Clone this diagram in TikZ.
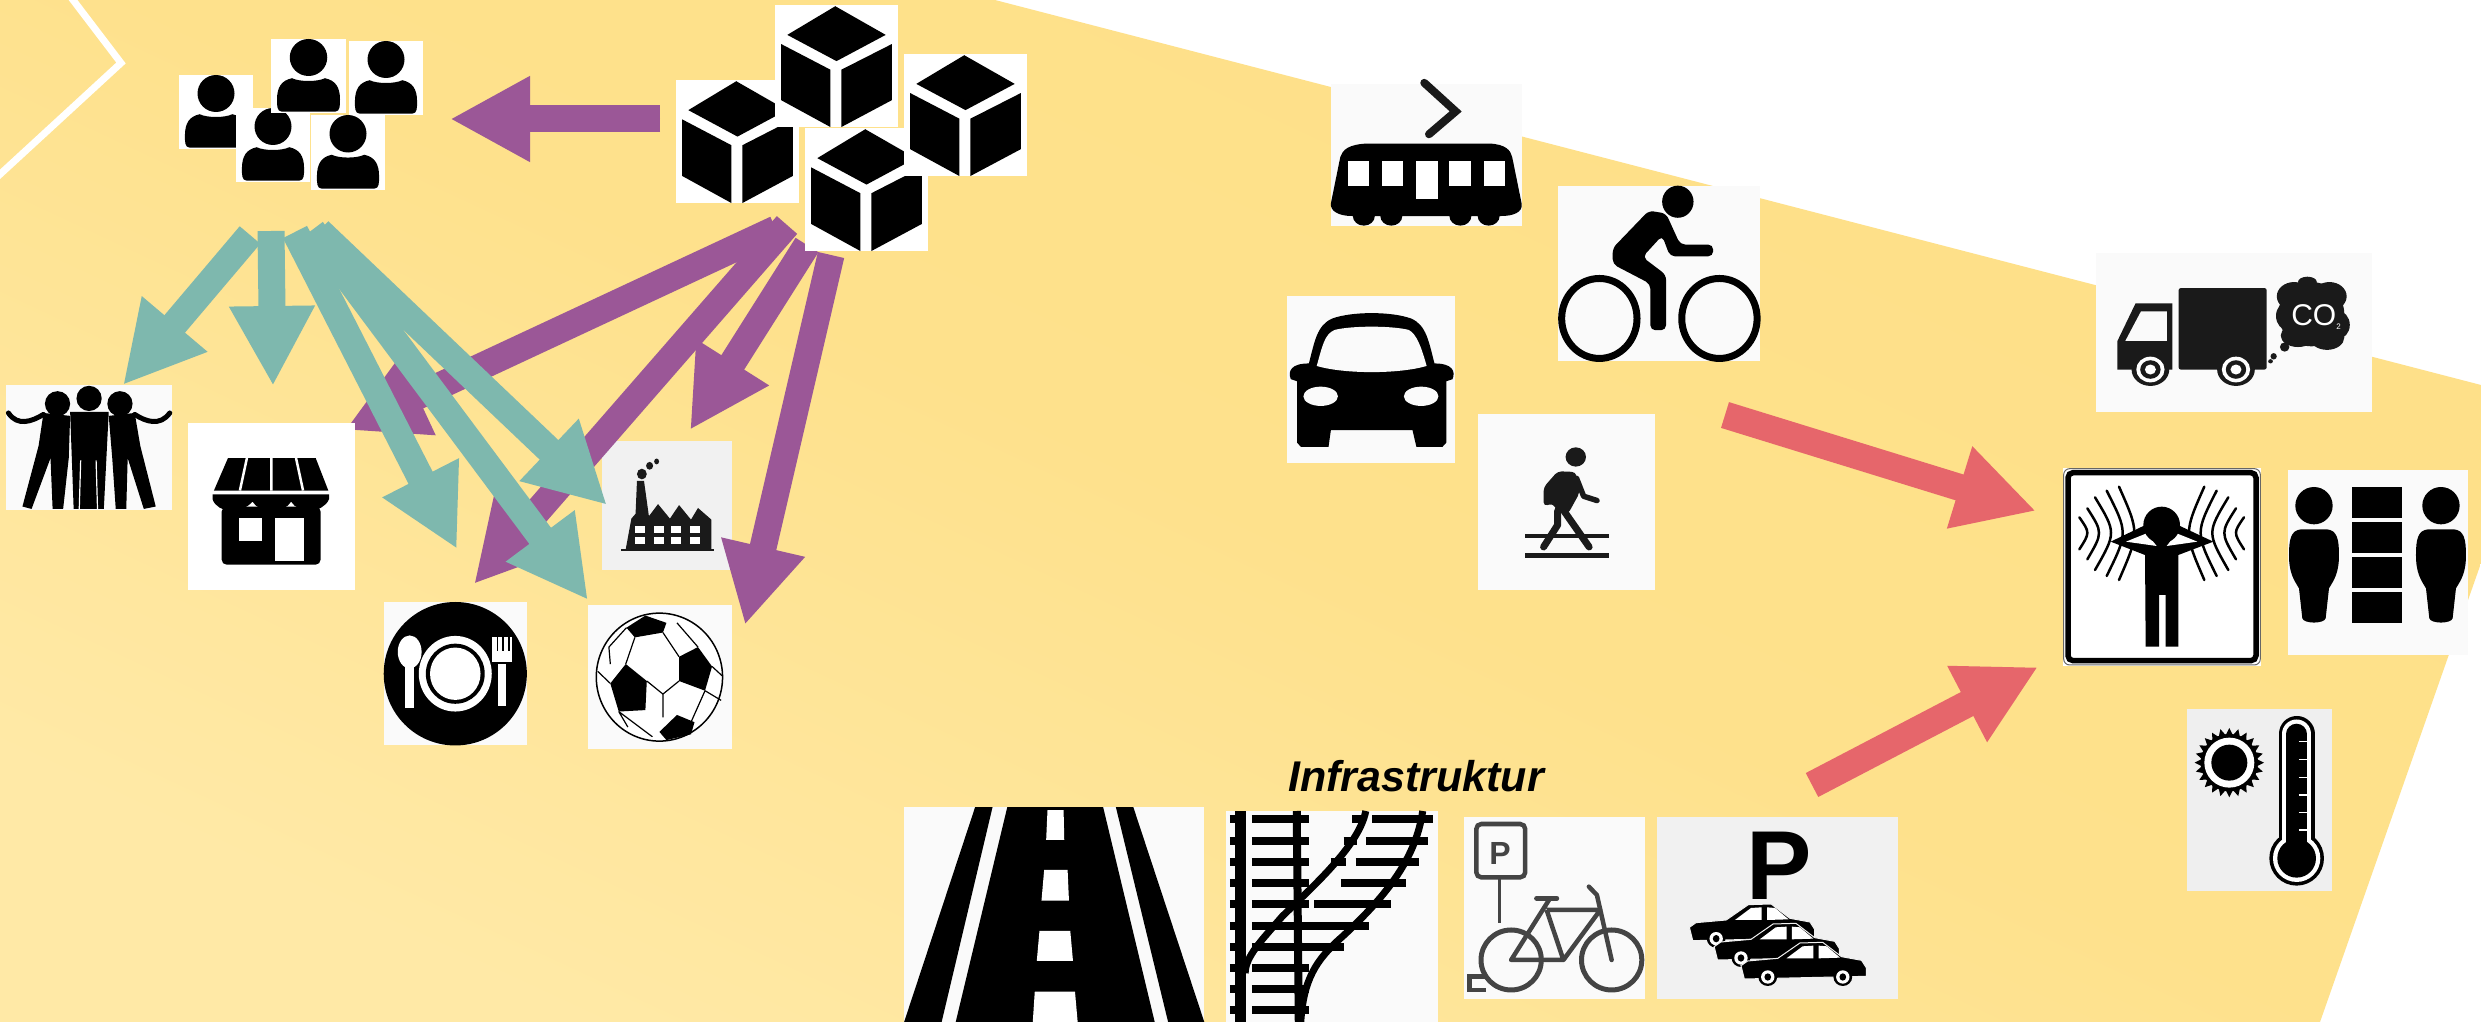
\documentclass[tikz,border=0pt]{standalone}
\usepackage{fontspec}
\setmainfont{Liberation Sans}
\usetikzlibrary{arrows.meta}
\definecolor{bgA}{HTML}{FEE088}
\definecolor{bgB}{HTML}{FEE18C}
\definecolor{bgC}{HTML}{FFE9A6}
\definecolor{tealar}{HTML}{7EB8AE}
\definecolor{purpar}{HTML}{9B5797}
\definecolor{coralar}{HTML}{E6666B}
\definecolor{nearblack}{HTML}{1A1A1A}
\definecolor{icongrey}{HTML}{444444}
\definecolor{offwhite}{HTML}{FAFAFA}
\definecolor{pale}{HTML}{F1F1F1}
\definecolor{thermbg}{HTML}{EFEFEF}
\tikzset{
  iconbox/.style={inner sep=0pt,outer sep=0pt,draw=none,rectangle},
  bigarrow/.style={line width=27pt,-{Triangle[length=80pt,width=80pt]}},
  tealarrow/.style={bigarrow,draw=tealar,fill=tealar},
  purparrow/.style={bigarrow,draw=purpar,fill=purpar},
  coralarrow/.style={bigarrow,draw=coralar,fill=coralar},
  zoomA/.style={x=.7015pt,y=-.4847pt},
  zoomB/.style={shift={(1250,50)},x=.785pt,y=-.357pt},
  zoomC/.style={shift={(880,740)},x=.67pt,y=-.3333pt},
  zoomD/.style={shift={(2000,440)},x=.3333pt,y=-.3333pt},
}
\newcommand{\ibox}[6]{%
  \pgfmathsetmacro\ibcx{(#2+#4)/2}\pgfmathsetmacro\ibcy{(#3+#5)/2}%
  \pgfmathsetmacro\ibw{#4-#2}\pgfmathsetmacro\ibh{#5-#3}%
  \node[iconbox,fill=#6,minimum width=\ibw pt,minimum height=\ibh pt] (#1) at (\ibcx,\ibcy) {};}
\newcommand{\personicon}[5]{%
  \ibox{#1}{#2}{#3}{#4}{#5}{white}%
  \begin{scope}[shift={(#2,#3)},x=\ibw pt,y=-\ibh pt]
    \fill[black] (.5,.25) ellipse [x radius=.25,y radius=.25];
    \fill[black] (.14,.98) .. controls (.08,.98) and (.08,.9) .. (.08,.82) .. controls (.08,.65) and (.14,.56) .. (.28,.53) .. controls (.38,.58) and (.62,.58) .. (.72,.53) .. controls (.86,.56) and (.92,.65) .. (.92,.82) .. controls (.92,.9) and (.92,.98) .. (.86,.98) -- cycle;
  \end{scope}}
\newcommand{\cubeicon}[5]{%
  \ibox{#1}{#2}{#3}{#4}{#5}{white}%
  \begin{scope}[shift={(#2,#3)},x=\ibw pt,y=-\ibh pt]
    \fill[black] (.49,.01) -- (.90,.245) -- (.5,.46) -- (.10,.245) -- cycle;
    \fill[black] (.05,.32) -- (.45,.53) -- (.45,1) -- (.05,.78) -- cycle;
    \fill[black] (.54,.53) -- (.95,.32) -- (.95,.78) -- (.54,1) -- cycle;
  \end{scope}}
\newcommand{\smallcar}[2]{%
  \begin{scope}[shift={(#1,#2)}]
    \filldraw[fill=black,draw=pale,line width=1pt] (0,72) -- (10,58) -- (55,50) -- (88,4) -- (122,2) -- (150,45) -- (180,56) -- (187,78) -- (187,104) -- (5,112) -- cycle;
    \fill[white] (68,50) -- (92,14) -- (108,12) -- (108,50) -- cycle;
    \fill[white] (116,12) -- (128,14) -- (148,48) -- (116,50) -- cycle;
    \fill[black] (40,106) ellipse [x radius=14,y radius=27];
    \fill[white] (40,106) ellipse [x radius=10,y radius=20];
    \fill[black] (40,106) ellipse [x radius=5,y radius=11];
    \fill[black] (152,106) ellipse [x radius=14,y radius=27];
    \fill[white] (152,106) ellipse [x radius=10,y radius=20];
    \fill[black] (152,106) ellipse [x radius=5,y radius=11];
  \end{scope}}
\begin{document}
\begin{tikzpicture}[x=1pt,y=-1pt]
\useasboundingbox (0,0) rectangle (2481,1022);
\fill[white] (0,0) rectangle (2481,1022);
\shade[top color=bgA,bottom color=bgC,middle color=bgB,shading angle=-25]
  (0,0) -- (995,0) -- (2481,385) -- (2481,563) -- (2320,1022) -- (0,1022) -- cycle;
\draw[white,line width=7pt] (70,-4) -- (121,63) -- (-4,178);

% factory icon (below the arrows)
\ibox{factory}{602}{441}{732}{570}{pale}
\begin{scope}[zoomA]
  \fill[nearblack] (892,1133) -- (900,1070) -- (906,1060) -- (908,992) -- (918,992) -- (925,1065) -- (938,1040) -- (955,1070) -- (968,1042) -- (985,1072) -- (995,1048) -- (1014,1072) -- (1014,1133) -- cycle;
  \fill[nearblack] (885,1133) rectangle (1018,1137);
  \fill[nearblack] (915,978) ellipse [x radius=7,y radius=11];
  \fill[nearblack] (926,961) ellipse [x radius=5,y radius=8];
  \fill[nearblack] (936,952) ellipse [x radius=3.5,y radius=6];
  \foreach \wx in {905,932,957,984} {
    \fill[white] (\wx,1086) rectangle ++(14,14);
    \fill[white] (\wx,1108) rectangle ++(14,14);
  }
\end{scope}

% purple arrows
\coordinate (crateA) at (776,229); \coordinate (crateB) at (787,225);
\coordinate (crateC) at (807,245); \coordinate (crateD) at (831,255);
\coordinate (crateE) at (660,119);
\coordinate (tipA) at (345,430); \coordinate (tipB) at (474,584);
\coordinate (tipC) at (690,430); \coordinate (tipD) at (745,625);
\coordinate (tipE) at (450,119);
\draw[purparrow] (crateE) -- (tipE);
\draw[purparrow] (crateA) -- (tipA);
\draw[purparrow] (crateB) -- (tipB);
\draw[purparrow] (crateC) -- (tipC);
\draw[purparrow] (crateD) -- (tipD);

% store
\ibox{store}{188}{423}{355}{590}{white}
\begin{scope}[zoomA]
  \fill[black] (325,945) -- (450,945) -- (468,1012) -- (305,1012) -- cycle;
  \draw[white,line width=2.5pt] (352,945) -- (342,1012) (387,945) -- (387,1012) (422,945) -- (432,1012);
  \fill[black] (303,1020) -- (469,1020) -- (469,1030) .. controls (460,1060) and (425,1060) .. (415,1035) .. controls (405,1060) and (370,1060) .. (360,1035) .. controls (345,1060) and (310,1060) .. (303,1030) -- cycle;
  \fill[black,rounded corners=5pt] (316,1045) -- (457,1045) -- (457,1165) -- (316,1165) -- cycle;
  \fill[white] (340,1068) rectangle (373,1117);
  \fill[white] (392,1068) rectangle (433,1157);
\end{scope}

% teal arrows
\coordinate (folkA) at (250,235); \coordinate (folkB) at (271,231);
\coordinate (folkC) at (295,232); \coordinate (folkD) at (312,230);
\coordinate (folkE) at (319,231);
\coordinate (endA) at (123,385); \coordinate (endB) at (273,386);
\coordinate (endC) at (457,549); \coordinate (endD) at (588,600);
\coordinate (endE) at (607,505);
\draw[tealarrow] (folkA) -- (endA);
\draw[tealarrow] (folkB) -- (endB);
\draw[tealarrow] (folkC) -- (endC);
\draw[tealarrow] (folkD) -- (endD);
\draw[tealarrow] (folkE) -- (endE);

% people
\personicon{personA}{179}{75}{253}{149}
\personicon{personB}{236}{108}{310}{182}
\personicon{personC}{271}{39}{346}{113}
\personicon{personD}{349}{41}{423}{115}
\personicon{personE}{311}{115}{385}{190}

% cubes
\cubeicon{cubeA}{676}{80}{799}{203}
\cubeicon{cubeB}{775}{5}{898}{127}
\cubeicon{cubeD}{805}{128}{928}{251}
\cubeicon{cubeC}{904}{54}{1027}{176}

% friends
\ibox{friends}{6}{385}{172}{510}{offwhite}
\begin{scope}[zoomA]
  \foreach \hx/\hy in {82/833,127/822,171/833}
    \fill[black] (\hx,\hy) ellipse [x radius=18,y radius=26];
  \fill[black] (100,850) -- (155,850) -- (148,1050) -- (105,1050) -- cycle;
  \fill[black] (62,852) -- (100,858) -- (98,945) -- (90,1050) -- (75,1050) -- (72,945) -- (45,1050) -- (32,1045) -- (55,920) -- cycle;
  \fill[black] (192,852) -- (155,858) -- (160,945) -- (165,1050) -- (180,1050) -- (182,945) -- (205,1050) -- (222,1045) -- (200,920) -- cycle;
  \draw[black,line width=5pt,line cap=round,line join=round] (12,852) .. controls (25,880) and (45,870) .. (62,855);
  \draw[black,line width=5pt,line cap=round,line join=round] (242,852) .. controls (228,880) and (208,870) .. (192,855);
  \draw[white,line width=1.2pt] (115,950) -- (113,1050) (137,950) -- (139,1050);
\end{scope}

% plate
\ibox{plate}{384}{602}{527}{745}{offwhite}
\begin{scope}[zoomA]
  \fill[black] (649,1390) ellipse [x radius=102,y radius=148];
  \fill[white] (649,1390) ellipse [x radius=52,y radius=78];
  \fill[black] (649,1390) ellipse [x radius=42,y radius=62];
  \fill[white] (649,1390) ellipse [x radius=36,y radius=54];
  \fill[white] (584,1345) ellipse [x radius=17,y radius=34];
  \fill[white] (578,1370) rectangle (590,1460);
  \fill[white] (710,1370) rectangle (722,1457);
  \fill[white] (702,1315) rectangle (730,1365);
  \foreach \fx in {708,716,724} \fill[black] (\fx,1315) rectangle ++(2.5,28);
\end{scope}

% ball
\ibox{ball}{588}{605}{732}{749}{offwhite}
\begin{scope}[zoomA]
  \filldraw[fill=white,draw=black,line width=1.5pt] (940,1397) ellipse [x radius=90,y radius=132];
  \fill[black] (870,1410) -- (892,1370) -- (922,1405) -- (920,1465) -- (882,1468) -- cycle;
  \fill[black] (968,1355) -- (995,1335) -- (1015,1375) -- (1005,1425) -- (968,1405) -- cycle;
  \fill[black] (940,1510) -- (965,1475) -- (990,1490) -- (985,1515) -- (950,1527) -- cycle;
  \fill[black] (893,1295) -- (920,1270) -- (950,1285) -- (945,1305) -- (905,1315) -- cycle;
  \draw[black,line width=1.2pt] (905,1315) -- (892,1370) (945,1305) -- (968,1355) (922,1405) -- (945,1432) -- (968,1405)
     (945,1432) -- (945,1480) (1005,1425) -- (985,1490) (882,1468) -- (930,1520) (1015,1375) -- (1030,1395)
     (995,1335) -- (965,1285) (870,1410) -- (852,1385) (893,1295) -- (868,1335) -- (870,1370) (1005,1425) -- (1028,1445) (882,1468) -- (895,1500);
\end{scope}

% tram
\ibox{tram}{1331}{84}{1522}{226}{offwhite}
\begin{scope}[zoomB]
  \draw[nearblack,line width=8pt,line cap=round,line join=miter] (222,92) -- (262,172) -- (228,236);
  \fill[black] (150,262) -- (305,262) .. controls (325,264) and (332,280) .. (334,300) -- (346,430) .. controls (348,455) and (335,465) .. (320,465) -- (130,465) .. controls (112,465) and (102,450) .. (103,430) -- (115,300) .. controls (118,280) and (125,264) .. (150,262) -- cycle;
  \foreach \wx/\wy in {125/380,168/380,212/417,254/380,298/380}
    \fill[white] (\wx,310) rectangle ++(27,\wy-310);
  \foreach \wx in {145,180,268,304} \fill[black] (\wx,465) ellipse [x radius=14,y radius=27];
\end{scope}

% bicycle
\ibox{bike}{1558}{186}{1760}{361}{offwhite}
\begin{scope}[zoomB]
  \fill[black] (545,425) ellipse [x radius=20,y radius=45];
  \draw[black,line width=7pt] (445,752) ellipse [x radius=48,y radius=112];
  \draw[black,line width=7pt] (598,752) ellipse [x radius=48,y radius=112];
  \fill[black,rounded corners=5pt] (508,450) -- (530,458) -- (548,545) -- (590,545) -- (590,578) -- (535,578) -- (525,520) -- (500,580) -- (530,630) -- (530,785) -- (510,785) -- (510,655) -- (462,600) -- (462,555) -- cycle;
\end{scope}

% car
\ibox{car}{1287}{296}{1455}{463}{offwhite}
\begin{scope}[zoomB]
  \fill[black] (75,878) .. controls (82,820) and (85,770) .. (105,752) .. controls (130,732) and (180,732) .. (205,752) .. controls (225,770) and (228,820) .. (235,878) .. controls (258,878) and (262,900) .. (258,922) -- (250,928) -- (250,1100) -- (245,1112) -- (212,1112) -- (207,1065) -- (103,1065) -- (100,1112) -- (65,1112) -- (60,1100) -- (60,928) -- (52,922) .. controls (48,900) and (52,878) .. (75,878) -- cycle;
  \fill[offwhite] (85,885) .. controls (92,830) and (95,795) .. (108,784) .. controls (130,772) and (180,772) .. (202,784) .. controls (212,795) and (218,830) .. (225,885) .. controls (190,908) and (120,908) .. (85,885) -- cycle;
  \fill[offwhite] (90,970) ellipse [x radius=22,y radius=27];
  \fill[offwhite] (218,970) ellipse [x radius=22,y radius=27];
\end{scope}

% pedestrian
\ibox{walker}{1478}{414}{1655}{590}{offwhite}
\begin{scope}[zoomB]
  \fill[nearblack] (350,1355) rectangle (457,1368);
  \fill[nearblack] (350,1410) rectangle (457,1422);
  \fill[nearblack] (415,1140) ellipse [x radius=13,y radius=27];
  \fill[nearblack,rounded corners=4pt] (392,1180) -- (415,1182) -- (420,1240) -- (405,1300) -- (392,1295) -- (386,1270) -- (374,1278) -- (374,1225) -- cycle;
  \draw[nearblack,line width=7pt,line cap=round,line join=round] (398,1285) -- (432,1392);
  \draw[nearblack,line width=7pt,line cap=round,line join=round] (392,1290) -- (392,1330) -- (374,1392);
  \draw[nearblack,line width=5.5pt,line cap=round,line join=round] (416,1200) -- (425,1250) -- (442,1262);
\end{scope}

% truck
\ibox{truck}{2096}{253}{2372}{412}{offwhite}
\begin{scope}[zoomB]
  \fill[nearblack,rounded corners=2pt] (1183,667) rectangle (1295,895);
  \fill[nearblack] (1128,710) -- (1175,710) -- (1175,895) -- (1105,895) -- (1105,815) -- cycle;
  \fill[offwhite] (1135,732) -- (1168,732) -- (1168,815) -- (1115,815) -- cycle;
  \foreach \tx in {1147,1256} {
    \fill[nearblack] (\tx,895) ellipse [x radius=24,y radius=46];
    \fill[white] (\tx,895) ellipse [x radius=18,y radius=36];
    \fill[nearblack] (\tx,895) ellipse [x radius=13,y radius=26];
    \fill[white] (\tx,895) ellipse [x radius=7,y radius=14];
  }
  \fill[nearblack] (1318,832) ellipse [x radius=6,y radius=13];
  \fill[nearblack] (1304,858) ellipse [x radius=4,y radius=9];
  \fill[nearblack] (1300,872) ellipse [x radius=3,y radius=6];
  \fill[nearblack] (1352,740) ellipse [x radius=42,y radius=90];
  \foreach \cxx/\cyy/\crx/\cry in {1330/690/22/40,1375/690/22/40,1322/745/15/40,1385/770/16/40,1335/800/22/32,1372/805/22/35,1347/650/12/15}
    \fill[nearblack] (\cxx,\cyy) ellipse [x radius=\crx,y radius=\cry];
\end{scope}
\node[inner sep=0pt,white,font=\fontsize{30}{32}\selectfont] (cotext) at (2316,317) {CO\raisebox{-.25ex}{\fontsize{8}{8}\selectfont 2}};

% coral arrows
\coordinate (modesOut) at (1725,415); \coordinate (noiseInA) at (2036,511);
\coordinate (infraOut) at (1812,785); \coordinate (noiseInB) at (2038,667);
\draw[coralarrow] (modesOut) -- (noiseInA);
\draw[coralarrow] (infraOut) -- (noiseInB);

% noise sign
\ibox{noise}{2063}{468}{2261}{666}{white}
\begin{scope}[zoomD]
  \draw[black,line width=5.5pt,rounded corners=5pt] (204,98) rectangle (768,662);
  \draw[black!60,line width=1pt,rounded corners=6pt] (191,86) rectangle (781,675);
  \foreach \ax/\bx/\ty/\by in {238/262/232/328,262/297/205/358,285/333/172/390,320/368/152/408,357/403/140/420} {
    \draw[black,line width=2.5pt,line cap=round] (\ax,\ty) .. controls ({(\bx-.25*\ax)/.75},278) .. (\ax,\by);
    \draw[black,line width=2.5pt,line cap=round] ({970-\ax},\ty) .. controls ({970-(\bx-.25*\ax)/.75},278) .. ({970-\ax},\by);
  }
  \fill[black] (332,305) -- (430,258) -- (540,258) -- (640,305) -- (535,345) -- (435,345) -- cycle;
  \fill[white] (378,305) -- (440,280) -- (470,318) -- cycle;
  \fill[white] (592,305) -- (530,280) -- (500,318) -- cycle;
  \fill[black] (485,255) circle [radius=55];
  \fill[black] (435,330) -- (535,330) -- (535,620) -- (497,620) -- (497,465) -- (477,465) -- (477,620) -- (437,620) -- cycle;
\end{scope}

% people and blocks
\ibox{spacing}{2288}{470}{2468}{655}{offwhite}
\begin{scope}[zoomD]
  \foreach \px in {942,1323} {
    \fill[black] (\px,197) circle [radius=56];
    \fill[black] (\px-38,268) .. controls (\px-70,270) and (\px-75,300) .. (\px-75,345) .. controls (\px-75,400) and (\px-60,420) .. (\px-45,445) -- (\px-35,535) .. controls (\px-30,552) and (\px+30,552) .. (\px+35,535) -- (\px+45,445) .. controls (\px+60,420) and (\px+75,400) .. (\px+75,345) .. controls (\px+75,300) and (\px+70,270) .. (\px+38,268) -- cycle;
  }
  \foreach \ya/\yb in {140/235,247/340,352/445,455/550} \fill[black] (1057,\ya) rectangle (1205,\yb);
\end{scope}

% sun and thermometer
\ibox{thermo}{2187}{709}{2332}{891}{thermbg}
\begin{scope}[zoomD]
  \begin{scope}[shift={(688,968)}]
    \foreach \sa in {0,15,...,345} \fill[black] ({\sa-8}:82) -- (\sa:104) -- ({\sa+8}:82) -- cycle;
    \fill[black] (0,0) circle [radius=86];
    \fill[white] (0,0) circle [radius=75];
    \fill[black] (0,0) circle [radius=54];
  \end{scope}
  \draw[black,line width=36pt,line cap=round] (890,882) -- (890,1240);
  \fill[black] (890,1255) circle [radius=82];
  \draw[white,line width=29pt,line cap=round] (890,882) -- (890,1240);
  \fill[white] (890,1255) circle [radius=71];
  \draw[black,line width=20.5pt,line cap=round] (890,882) -- (890,1240);
  \fill[black] (890,1255) circle [radius=58];
  \foreach \ty in {905,958,1012,1065,1118,1170} \draw[white,line width=1.2pt] (897,\ty) -- (922,\ty);
\end{scope}

% label
\node[anchor=base,inner sep=0pt,font=\fontsize{43}{50}\selectfont\bfseries\itshape] (infralabel) at (1416,791) {Infrastruktur};

% road
\ibox{road}{904}{807}{1204}{1022}{offwhite}
\begin{scope}[zoomC]
  \fill[black] (142,201) -- (168,201) -- (92,846) -- (36,846) -- cycle;
  \fill[black] (190,201) -- (333,201) -- (410,846) -- (113,846) -- cycle;
  \fill[black] (352,201) -- (378,201) -- (484,846) -- (430,846) -- cycle;
  \fill[white] (250,210) -- (274,210) -- (275,300) -- (248,300) -- cycle;
  \fill[white] (245,390) -- (280,390) -- (282,482) -- (241,482) -- cycle;
  \fill[white] (238,573) -- (284,573) -- (288,663) -- (234,663) -- cycle;
  \fill[white] (231,755) -- (291,755) -- (295,846) -- (228,846) -- cycle;
\end{scope}

% rails
\ibox{rail}{1226}{811}{1438}{1022}{offwhite}
\begin{scope}[zoomC]
  \foreach \ry in {238,302,365,430,493,558,620,683,748,810} {
    \draw[black,line width=8pt] (555,\ry) -- (640,\ry);
    \draw[black,line width=8pt] (522,\ry) -- (540,\ry);
  }
  \foreach \ry/\rl/\rr in {238/735/825,302/725/818,365/710/805,430/688/785,493/648/762,558/637/730,620/637/692}
    \draw[black,line width=8pt] (\rl,\ry) -- (\rr,\ry);
  \foreach \ry/\rl/\rr in {238/705/722,302/692/712,365/673/695}
    \draw[black,line width=8pt] (\rl,\ry) -- (\rr,\ry);
  \draw[black,line width=11pt] (538,213) -- (538,846);
  \draw[black,line width=8pt] (622,213) -- (625,846);
  \draw[black,line width=7pt] (725,213) .. controls (715,320) and (640,450) .. (600,530) .. controls (570,600) and (545,650) .. (545,700);
  \draw[black,line width=7pt] (810,213) .. controls (800,350) and (760,460) .. (690,590) .. controls (650,660) and (632,720) .. (628,846);
\end{scope}

% bicycle parking
\ibox{bikepark}{1464}{817}{1645}{999}{offwhite}
\begin{scope}[zoomC]
  \draw[icongrey,line width=4.5pt,rounded corners=5pt] (890,252) rectangle (963,412);
  \draw[icongrey,line width=3pt] (925,415) -- (925,548);
  \draw[icongrey,line width=5pt] (942,660) ellipse [x radius=45,y radius=90];
  \draw[icongrey,line width=5pt] (1092,660) ellipse [x radius=45,y radius=90];
  \draw[icongrey,line width=4.5pt,line join=round] (1000,475) -- (942,660) -- (1020,660) -- (1075,510) -- (995,510) (995,510) -- (1020,660);
  \draw[icongrey,line width=4.5pt,line join=round,line cap=round] (1058,440) -- (1070,465) -- (1092,660);
  \draw[icongrey,line width=5pt,line cap=round] (980,475) -- (1010,475);
  \draw[icongrey,line width=4.5pt] (905,710) -- (880,710) -- (880,750) -- (905,750);
\end{scope}
\node[inner sep=0pt,text=icongrey,font=\fontsize{32}{34}\selectfont\bfseries] (psign) at (1500,853) {P};

% car parking
\ibox{carpark}{1657}{817}{1898}{999}{pale}
\node[anchor=base,inner sep=0pt,font=\fontsize{98}{100}\selectfont\bfseries] (pbig) at (1779,899) {P};
\begin{scope}[zoomC]
  \smallcar{1208}{490}
  \smallcar{1245}{548}
  \smallcar{1285}{605}
\end{scope}
\end{tikzpicture}
\end{document}
